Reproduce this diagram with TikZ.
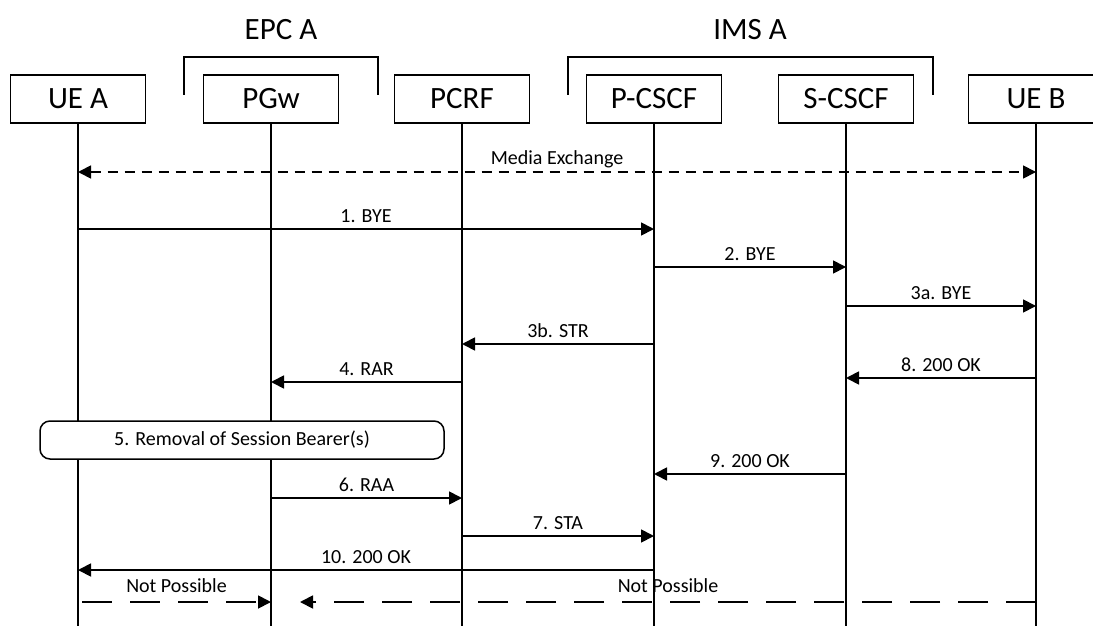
\documentclass[tikz,border=0pt]{standalone}
\usepackage{fontspec}
\setmainfont{Carlito}
\usetikzlibrary{arrows.meta,calc}
\tikzset{
  entity/.style={draw, line width=1.5pt, minimum width=135pt, minimum height=48pt, inner sep=0pt, font=\fontsize{31}{36}\selectfont},
  group/.style={line width=1.5pt},
  grouplabel/.style={font=\fontsize{31}{36}\selectfont, inner sep=0pt},
  life/.style={line width=1.4pt},
  msg/.style={line width=1.8pt, -{Triangle[length=13pt,width=13pt]}},
  media/.style={line width=1.8pt, dash pattern=on 10pt off 7pt, {Triangle[length=13pt,width=13pt]}-{Triangle[length=13pt,width=13pt]}},
  npmsg/.style={line width=1.8pt, dash pattern=on 30pt off 18pt, -{Triangle[length=13pt,width=13pt]}},
  lbl/.style={font=\fontsize{20}{24}\selectfont, inner sep=0pt, yshift=13pt},
  procbox/.style={draw, line width=1.5pt, rounded corners=10pt, minimum width=404pt, minimum height=38pt, inner sep=0pt, font=\fontsize{20}{24}\selectfont}
}
\begin{document}
\begin{tikzpicture}[x=1pt,y=-1pt]
\useasboundingbox (0,0) rectangle (1093,626);
\clip (0,0) rectangle (1093,626);
% groups
\draw[group] (184,95) -- (184,57) -- (378,57) -- (378,95);
\node[grouplabel] (epc) at (281,30) {EPC A};
\draw[group] (568,95) -- (568,57) -- (933,57) -- (933,95);
\node[grouplabel] (ims) at (750,30) {IMS A};
% entities
\node[entity] (uea) at (78,99) {UE A};
\node[entity] (pgw) at (271,99) {PGw};
\node[entity] (pcrf) at (462,99) {PCRF};
\node[entity] (pcscf) at (654,99) {P-CSCF};
\node[entity] (scscf) at (846,99) {S-CSCF};
\node[entity] (ueb) at (1036,99) {UE B};
% lifelines
\foreach \n in {uea,pgw,pcrf,pcscf,scscf,ueb}{
  \coordinate (\n-end) at (\n |- 0,626);
  \draw[life] (\n.south) -- (\n-end);
}
% media exchange
\coordinate (me-a) at (uea |- 0,172);
\coordinate (me-b) at (ueb |- 0,172);
\draw[media] (me-a) -- node[lbl]{Media Exchange} (me-b);
% 1. BYE
\coordinate (m1a) at (uea |- 0,229);
\coordinate (m1b) at (pcscf |- 0,229);
\draw[msg] (m1a) -- node[lbl]{1. BYE} (m1b);
% 2. BYE
\coordinate (m2a) at (pcscf |- 0,267);
\coordinate (m2b) at (scscf |- 0,267);
\draw[msg] (m2a) -- node[lbl]{2. BYE} (m2b);
% 3a. BYE
\coordinate (m3a) at (scscf |- 0,306);
\coordinate (m3b) at (ueb |- 0,306);
\draw[msg] (m3a) -- node[lbl]{3a. BYE} (m3b);
% 3b. STR
\coordinate (m3ba) at (pcscf |- 0,344);
\coordinate (m3bb) at (pcrf |- 0,344);
\draw[msg] (m3ba) -- node[lbl]{3b. STR} (m3bb);
% 4. RAR
\coordinate (m4a) at (pcrf |- 0,382);
\coordinate (m4b) at (pgw |- 0,382);
\draw[msg] (m4a) -- node[lbl]{4. RAR} (m4b);
% 8. 200 OK
\coordinate (m8a) at (ueb |- 0,378);
\coordinate (m8b) at (scscf |- 0,378);
\draw[msg] (m8a) -- node[lbl]{8. 200 OK} (m8b);
% 5. box
\node[procbox, fill=white] (rem) at (242,440) {5. Removal of Session Bearer(s)};
% 9. 200 OK
\coordinate (m9a) at (scscf |- 0,474);
\coordinate (m9b) at (pcscf |- 0,474);
\draw[msg] (m9a) -- node[lbl]{9. 200 OK} (m9b);
% 6. RAA
\coordinate (m6a) at (pgw |- 0,498);
\coordinate (m6b) at (pcrf |- 0,498);
\draw[msg] (m6a) -- node[lbl]{6. RAA} (m6b);
% 7. STA
\coordinate (m7a) at (pcrf |- 0,536);
\coordinate (m7b) at (pcscf |- 0,536);
\draw[msg] (m7a) -- node[lbl]{7. STA} (m7b);
% 10. 200 OK
\coordinate (m10a) at (pcscf |- 0,570);
\coordinate (m10b) at (uea |- 0,570);
\draw[msg] (m10a) -- node[lbl]{10. 200 OK} (m10b);
% Not possible
\coordinate (np1a) at (82,602);
\coordinate (np1b) at (pgw |- 0,602);
\draw[npmsg] (np1a) -- node[lbl, yshift=3pt]{Not Possible} (np1b);
\coordinate (np2a) at (ueb |- 0,602);
\coordinate (np2b) at (300,602);
\draw[npmsg] (np2a) -- node[lbl, yshift=3pt]{Not Possible} (np2b);
\end{tikzpicture}
\end{document}
